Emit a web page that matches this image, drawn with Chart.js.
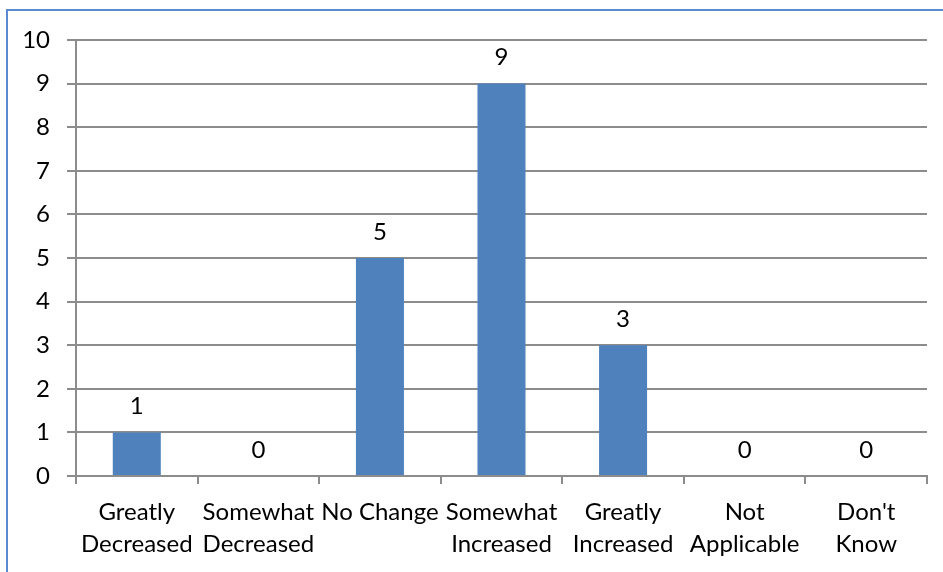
<!DOCTYPE html>
<html>
<head>
<meta charset="utf-8">
<script src="https://cdn.jsdelivr.net/npm/chart.js@4/dist/chart.umd.min.js"></script>
<style>
  html, body { margin: 0; padding: 0; background: #fff; overflow: hidden; }
  #frame {
    position: absolute; left: 6px; top: 9px; width: 1000px; height: 600px;
    border-left: 2px solid #5a8ad0; border-top: 2px solid #5a8ad0;
  }
  #wrap { position: absolute; left: 0; top: 0; width: 943px; height: 572px; }
</style>
</head>
<body>
<div id="frame"></div>
<div id="wrap"><canvas id="chart"></canvas></div>
<script>
const categories = [
  ["Greatly", "Decreased"],
  ["Somewhat", "Decreased"],
  ["No Change"],
  ["Somewhat", "Increased"],
  ["Greatly", "Increased"],
  ["Not", "Applicable"],
  ["Don't", "Know"],
];
const counts = [1, 0, 5, 9, 3, 0, 0];
const yTicks = [0, 1, 2, 3, 4, 5, 6, 7, 8, 9, 10];

const FONT = "Lato";
const FSIZE = 24;

// valeurs au-dessus des barres
const valueLabels = {
  id: "valueLabels",
  afterDatasetsDraw(chart) {
    const ctx = chart.ctx;
    const meta = chart.getDatasetMeta(0);
    ctx.save();
    ctx.font = FSIZE + "px " + FONT;
    ctx.fillStyle = "#000";
    ctx.textAlign = "center";
    ctx.textBaseline = "middle";
    meta.data.forEach((bar, i) => {
      ctx.fillText(String(counts[i]), bar.x, bar.y - 26);
    });
    ctx.restore();
  },
};

new Chart(document.getElementById("chart"), {
  type: "bar",
  data: {
    labels: categories,
    datasets: [{
      data: counts,
      backgroundColor: "#4f81bd",
      borderWidth: 0,
      categoryPercentage: 1,
      barPercentage: 0.395,
    }],
  },
  options: {
    responsive: true,
    maintainAspectRatio: false,
    animation: false,
    layout: { padding: { top: 40, right: 16, left: 0, bottom: 0 } },
    plugins: { legend: { display: false }, tooltip: { enabled: false } },
    scales: {
      x: {
        afterFit: (s) => { s.height = 96; },
        grid: { offset: true, drawOnChartArea: false, drawTicks: true, tickLength: 8, color: "#8c8c8c", lineWidth: 2 },
        border: { display: true, color: "#8c8c8c", width: 2 },
        ticks: {
          autoSkip: false, maxRotation: 0, minRotation: 0, padding: 12,
          color: "#000", font: { family: FONT, size: FSIZE, lineHeight: "32px" },
        },
      },
      y: {
        min: 0, max: 10,
        afterFit: (s) => { s.width = 76; },
        afterBuildTicks: (s) => { s.ticks = yTicks.map((v) => ({ value: v })); },
        grid: { color: "#8c8c8c", lineWidth: 2, tickLength: 9 },
        border: { display: true, color: "#8c8c8c", width: 2 },
        ticks: { padding: 17, color: "#000", font: { family: FONT, size: FSIZE } },
      },
    },
  },
  plugins: [valueLabels],
});
</script>
</body>
</html>
